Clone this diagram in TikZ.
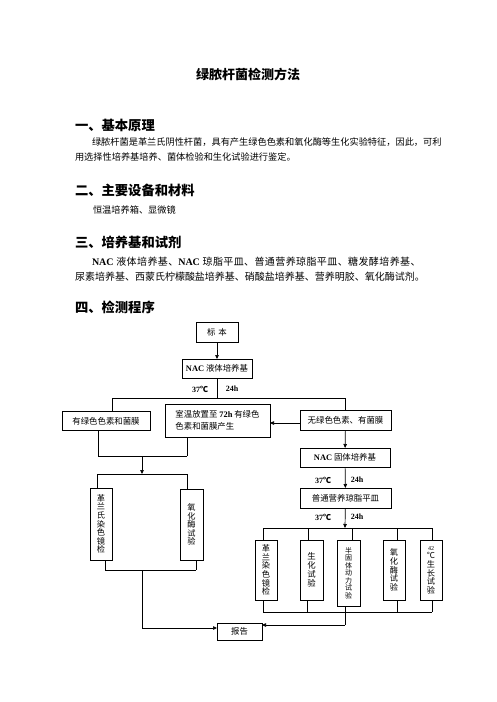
\documentclass[tikz,border=0pt]{standalone}
\usepackage{fontspec}
\setmainfont{Liberation Serif}
\newfontfamily\cjk{Noto Sans CJK SC}
\newfontfamily\cjkls{Noto Sans CJK SC}[LetterSpace=4.0]
\usetikzlibrary{arrows.meta}
\newcommand\lat[1]{{\rmfamily\bfseries #1}}
\begin{document}
\begin{tikzpicture}[x=1pt,y=-1pt,
  every node/.style={inner sep=0pt, outer sep=0pt},
  box/.style={draw, line width=0.7pt, font=\cjk\fontsize{8.4}{10}\selectfont},
  vbox/.style={draw, line width=0.7pt, align=center, font=\cjk\fontsize{8.2}{8.6}\selectfont},
  conn/.style={line width=0.7pt},
  arr/.style={line width=0.7pt, -{Triangle[length=4pt,width=3.5pt]}},
  heading/.style={anchor=west, font=\cjk\bfseries\fontsize{13.3}{14}\selectfont},
  body/.style={anchor=west, font=\cjk\fontsize{9.2}{10}\selectfont},
  lbl/.style={font=\rmfamily\bfseries\fontsize{8}{9}\selectfont}
]
\useasboundingbox (0,0) rectangle (496,702);
\fill[white] (0,0) rectangle (496,702);

% title and text
\node[font=\cjk\bfseries\fontsize{13}{14}\selectfont] (title) at (248,74) {绿脓杆菌检测方法};
\node[heading] (h1) at (75,125) {一、基本原理};
\node[body] (b1a) at (92,142) {绿脓杆菌是革兰氏阴性杆菌，具有产生绿色色素和氧化酶等生化实验特征，因此，可利};
\node[body] (b1b) at (75,157) {用选择性培养基培养、菌体检验和生化试验进行鉴定。};
\node[heading] (h2) at (75,190) {二、主要设备和材料};
\node[body] (b2) at (93,210) {恒温培养箱、显微镜};
\node[heading] (h3) at (75,242) {三、培养基和试剂};
\node[body, font=\cjkls\fontsize{10}{10}\selectfont] (b3a) at (92,262) {\lat{NAC} 液体培养基、\lat{NAC} 琼脂平皿、普通营养琼脂平皿、糖发酵培养基、};
\node[body, font=\cjk\fontsize{10}{10}\selectfont] (b3b) at (75,277) {尿素培养基、西蒙氏柠檬酸盐培养基、硝酸盐培养基、营养明胶、氧化酶试剂。};
\node[heading] (h4) at (75,307) {四、检测程序};

% boxes
\node[box, minimum width=42, minimum height=20] (biao) at (217,332) {标\,\,本};
\node[box, minimum width=70, minimum height=19] (nacl) at (217,368.5) {\lat{NAC} 液体培养基};
\node[box, minimum width=88, minimum height=19] (g1) at (106,421) {有绿色色素和菌膜};
\node[box, minimum width=105, minimum height=33, align=left, font=\cjk\fontsize{8.4}{11.5}\selectfont] (mid) at (217.5,420.5) {室温放置至 \lat{72h} 有绿色\\色素和菌膜产生};
\node[box, minimum width=91, minimum height=20] (r1) at (345.5,420) {无绿色色素、有菌膜};
\node[box, minimum width=90, minimum height=19] (nacs) at (345,457.5) {\lat{NAC} 固体培养基};
\node[box, minimum width=91, minimum height=20] (pt) at (345.5,498) {普通营养琼脂平皿};

\node[vbox, minimum width=22, minimum height=72] (L1) at (101,524) {革\\兰\\氏\\染\\色\\镜\\检};
\node[vbox, minimum width=23, minimum height=71] (L2) at (191.5,524.5) {氧\\化\\酶\\试\\验};

\node[vbox, minimum width=22, minimum height=60] (R1) at (266,570) {革\\兰\\染\\色\\镜\\检};
\node[vbox, minimum width=23, minimum height=60, font=\cjk\fontsize{8.4}{9}\selectfont] (R2) at (311.5,570) {生\\化\\试\\验};
\node[vbox, minimum width=23, minimum height=66, font=\cjk\fontsize{7}{7.5}\selectfont] (R3) at (348.5,573) {半\\固\\体\\动\\力\\试\\验};
\node[vbox, minimum width=22, minimum height=60] (R4) at (394,570) {氧\\化\\酶\\试\\验};
\node[vbox, minimum width=22, minimum height=60] (R5) at (431,570) {{\rmfamily\fontsize{6}{6}\selectfont 42}\\℃\\生\\长\\试\\验};

\node[box, minimum width=45, minimum height=17] (rep) at (239.5,631.5) {报告};

\node[lbl] (t1) at (200,389) {37{\cjk\bfseries ℃}};
\node[lbl] (h1l) at (232,389) {24h};
\node[lbl] (t2) at (323,480) {37{\cjk\bfseries ℃}};
\node[lbl] (h2l) at (357,480) {24h};
\node[lbl] (t3) at (323,517) {37{\cjk\bfseries ℃}};
\node[lbl] (h3l) at (357,517) {24h};

% junction coordinates
\coordinate (j1) at (217,398);
\coordinate (j1l) at (112,398);
\coordinate (j1r) at (345,398);
\coordinate (a1) at (98,456);
\coordinate (a2) at (187,456);
\coordinate (am) at (142,456);
\coordinate (b0) at (142,474);
\coordinate (bl) at (97,474);
\coordinate (br) at (187,474);
\coordinate (c1) at (105,570);
\coordinate (c2) at (196,570);
\coordinate (cm) at (142,570);
\coordinate (cd) at (142,628);
\coordinate (p0) at (345,528);
\coordinate (pl) at (263,528);
\coordinate (pr) at (432,528);
\coordinate (q1) at (263,612);
\coordinate (q5) at (432,612);
\coordinate (qm) at (345,612);
\coordinate (qd) at (345,625);

% connectors
\draw[arr] (biao) -- (nacl);
\draw[conn] (nacl) -- (j1);
\draw[conn] (j1l) -- (j1r);
\draw[conn] (j1l) -- (g1.north -| j1l);
\draw[conn] (j1r) -- (r1.north -| j1r);
\draw[arr] (r1.west |- 0,423) -- (mid.east |- 0,423);
\draw[arr] (r1) -- (nacs);
\draw[arr] (nacs) -- (pt);
\draw[arr] (pt) -- (p0);
\draw[conn] (pl) -- (pr);
\draw[conn] (pl) -- (R1.north -| pl);
\draw[conn] (308,528) -- (R2.north -| 308,0);
\draw[conn] (352,528) -- (R3.north -| 352,0);
\draw[conn] (397,528) -- (R4.north -| 397,0);
\draw[conn] (pr) -- (R5.north -| pr);
\draw[conn] (R1.south -| q1) -- (q1);
\draw[conn] (R2.south -| 307,0) -- (307,612);
\draw[conn] (R3.south -| qm) -- (qm);
\draw[conn] (R4.south -| 397,0) -- (397,612);
\draw[conn] (R5.south -| q5) -- (q5);
\draw[conn] (q1) -- (q5);
\draw[conn] (qm) -- (qd);
\draw[arr] (qd) -- (rep.east |- qd);

\draw[conn] (g1.south -| a1) -- (a1);
\draw[conn] (mid.south -| a2) -- (a2);
\draw[conn] (a1) -- (a2);
\draw[arr] (am) -- (b0);
\draw[conn] (bl) -- (br);
\draw[conn] (bl) -- (L1.north -| bl);
\draw[conn] (br) -- (L2.north -| br);
\draw[conn] (L1.south -| c1) -- (c1);
\draw[conn] (L2.south -| c2) -- (c2);
\draw[conn] (c1) -- (c2);
\draw[conn] (cm) -- (cd);
\draw[arr] (cd) -- (rep.west |- cd);
\end{tikzpicture}
\end{document}
